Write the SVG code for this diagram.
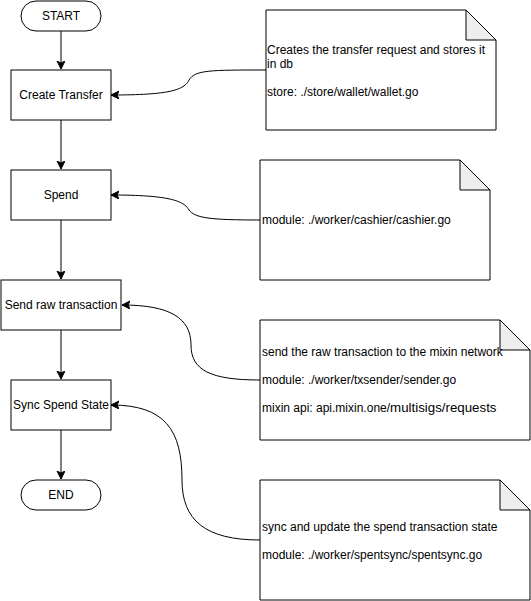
<svg xmlns="http://www.w3.org/2000/svg" width="531" height="601" viewBox="0 0 531 601">
<style>
.box{fill:#fff;stroke:#000;stroke-width:1}
.fold{fill:#eeeeee;stroke:#000;stroke-width:1}
.lbl{font-family:"Liberation Sans",Arial,sans-serif;font-size:12px;fill:#000;text-anchor:middle}
.note{font-family:"Liberation Sans",Arial,sans-serif;font-size:12px;fill:#000}
.edge{fill:none;stroke:#000;stroke-width:1}
</style>
<defs>
<marker id="arr" markerUnits="userSpaceOnUse" markerWidth="10" markerHeight="10" refX="8" refY="4" orient="auto">
<path d="M0,0 L8,4 L0,8 L2,4 Z" fill="#000" stroke="#000" stroke-width="1"/>
</marker>
</defs>
<rect width="531" height="601" fill="#fff"/>
<g id="connectors">
<path class="edge" d="M61,31 L61,69" marker-end="url(#arr)"/>
<path class="edge" d="M61,120 L61,169" marker-end="url(#arr)"/>
<path class="edge" d="M61,220 L61,279" marker-end="url(#arr)"/>
<path class="edge" d="M61,330 L61,379" marker-end="url(#arr)"/>
<path class="edge" d="M61,430 L61,479" marker-end="url(#arr)"/>
<path class="edge" d="M266,70 C210,70 195,70 189,80 C184,90 170,95 111,95" marker-end="url(#arr)"/>
<path class="edge" d="M260,220 C210,220 195,218 189,210 C184,201 170,195 111,195" marker-end="url(#arr)"/>
<path class="edge" d="M260,380 C210,380 191,370 191,345 C191,318 170,305 122,305" marker-end="url(#arr)"/>
<path class="edge" d="M260,540 C205,540 182,520 182,480 C182,430 165,405 111,405" marker-end="url(#arr)"/>
</g>
<g id="start">
<rect class="box" x="21" y="1" width="80" height="30" rx="15" ry="15"/>
<text class="lbl" x="61" y="20">START</text>
</g>
<g id="create-transfer">
<rect class="box" x="11" y="70" width="100" height="50"/>
<text class="lbl" x="61" y="99">Create Transfer</text>
</g>
<g id="spend">
<rect class="box" x="11" y="170" width="100" height="50"/>
<text class="lbl" x="61" y="199">Spend</text>
</g>
<g id="send-raw">
<rect class="box" x="1" y="280" width="120" height="50"/>
<text class="lbl" x="61" y="309">Send raw transaction</text>
</g>
<g id="sync-spend">
<rect class="box" x="11" y="380" width="100" height="50"/>
<text class="lbl" x="61" y="409">Sync Spend State</text>
</g>
<g id="end">
<rect class="box" x="21" y="480" width="80" height="30" rx="15" ry="15"/>
<text class="lbl" x="61" y="499">END</text>
</g>
<g id="note-create">
<path class="box" d="M266,10 L466,10 L496,40 L496,130 L266,130 Z"/>
<path class="fold" d="M466,10 L466,40 L496,40 Z"/>
<text class="note" x="267" y="54">Creates the transfer request and stores it</text>
<text class="note" x="267" y="68">in db</text>
<text class="note" x="267" y="96">store: ./store/wallet/wallet.go</text>
</g>
<g id="note-spend">
<path class="box" d="M260,160 L460,160 L490,190 L490,280 L260,280 Z"/>
<path class="fold" d="M460,160 L460,190 L490,190 Z"/>
<text class="note" x="262" y="224">module: ./worker/cashier/cashier.go</text>
</g>
<g id="note-send">
<path class="box" d="M260,320 L500,320 L530,350 L530,440 L260,440 Z"/>
<path class="fold" d="M500,320 L500,350 L530,350 Z"/>
<text class="note" x="262" y="356">send the raw transaction to the mixin network</text>
<text class="note" x="262" y="384">module: ./worker/txsender/sender.go</text>
<text class="note" x="262" y="412">mixin api: api.mixin.one/<tspan font-size="13.3px">multisigs/requests</tspan></text>
</g>
<g id="note-sync">
<path class="box" d="M260,480 L500,480 L530,510 L530,600 L260,600 Z"/>
<path class="fold" d="M500,480 L500,510 L530,510 Z"/>
<text class="note" x="262" y="531">sync and update the spend transaction state</text>
<text class="note" x="262" y="559">module: ./worker/spentsync/spentsync.go</text>
</g>
</svg>
